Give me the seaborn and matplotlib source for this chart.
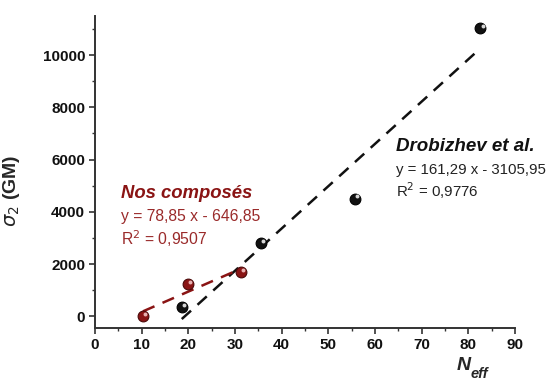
"""
sigma2 vs N_eff : nos composés vs Drobizhev et al.
"""

import numpy as np
import pandas as pd
import seaborn as sns
import matplotlib.pyplot as plt
import matplotlib.transforms as mtransforms

# Données
neff_nos = [10.3, 19.85, 31.3]
sigma_nos = [30, 1240, 1690]

neff_drob = [18.6, 35.5, 55.7, 82.6]
sigma_drob = [350, 2820, 4510, 11020]

# équations affichées
eq_nos = "y = 78,85 x - 646,85"
r2_nos = "R$^2$ = 0,9507"
eq_drob = "y = 161,29 x - 3105,95"
r2_drob = "R$^2$ = 0,9776"

RED = "#8a1414"
BLACK = "#111111"

sns.set_style("ticks")
plt.rcParams["font.family"] = ["Liberation Sans", "DejaVu Sans"]

df_nos = pd.DataFrame({"neff": neff_nos, "sigma": sigma_nos})
df_drob = pd.DataFrame({"neff": neff_drob, "sigma": sigma_drob})

fig = plt.figure(figsize=(5.52, 3.87), dpi=100)
ax = fig.add_axes([0.172, 0.152, 0.761, 0.807])

line_kws = dict(linestyle=(0, (5, 3.5)), linewidth=1.8, zorder=2)

sns.regplot(data=df_drob, x="neff", y="sigma", ax=ax, ci=None, truncate=True,
            color=BLACK, line_kws=line_kws,
            scatter_kws=dict(s=60, alpha=1, edgecolor="black", linewidths=0.8, zorder=3))
sns.regplot(data=df_nos, x="neff", y="sigma", ax=ax, ci=None, truncate=True,
            color=RED, line_kws=line_kws,
            scatter_kws=dict(s=60, alpha=1, edgecolor="#4a0808", linewidths=0.8, zorder=3))

# petit reflet pour l'effet "sphère"
shift = mtransforms.ScaledTranslation(1.5 / 72, 1.5 / 72, fig.dpi_scale_trans)
ax.scatter(neff_drob, sigma_drob, s=8, color="#d8d8d8", linewidths=0,
           transform=ax.transData + shift, zorder=4)
ax.scatter(neff_nos, sigma_nos, s=8, color="#e8b0b0", linewidths=0,
           transform=ax.transData + shift, zorder=4)

ax.set_xlim(0, 90)
ax.set_ylim(-450, 11500)
ax.set_xticks(np.arange(0, 91, 10))
ax.set_xticks(np.arange(5, 90, 10), minor=True)
ax.set_yticks(np.arange(0, 10001, 2000))
ax.set_yticks(np.arange(1000, 11001, 2000), minor=True)

for lab in ax.get_xticklabels() + ax.get_yticklabels():
    lab.set_fontweight("bold")
ax.tick_params(axis="both", which="major", labelsize=11, length=4, width=1.2,
               color="#333333", labelcolor="#111111", pad=3)
ax.tick_params(axis="both", which="minor", length=2.5, width=1.0, color="#333333")

sns.despine(ax=ax)
for side in ["left", "bottom"]:
    ax.spines[side].set_linewidth(1.4)
    ax.spines[side].set_color("#333333")

ax.set_xlabel("")
ax.set_ylabel(r"$\sigma_2$ (GM)", fontsize=14, fontweight="bold")
ax.yaxis.set_label_coords(-0.174, 0.44)

# N_eff en gras italique
fig.text(0.852, 0.045, "N", fontsize=14, fontweight="bold", fontstyle="italic",
         ha="right", va="baseline")
fig.text(0.852, 0.022, "eff", fontsize=10.5, fontweight="bold", fontstyle="italic",
         ha="left", va="baseline")

# annotations
ax.text(5.5, 4720, "Nos composés", color=RED, fontsize=13.3, fontweight="bold",
        fontstyle="italic", va="center")
ax.text(5.5, 3830, eq_nos, color="#9a2a2a", fontsize=11.3, va="center")
ax.text(5.5, 2990, r2_nos, color="#9a2a2a", fontsize=11.3, va="center")

ax.text(64.6, 6490, "Drobizhev et al.", color=BLACK, fontsize=13.5, fontweight="bold",
        fontstyle="italic", va="center")
ax.text(64.6, 5600, eq_drob, color="#222222", fontsize=10.8, va="center")
ax.text(64.6, 4830, r2_drob, color="#222222", fontsize=10.8, va="center")

fig.savefig("out.png", dpi=100)
